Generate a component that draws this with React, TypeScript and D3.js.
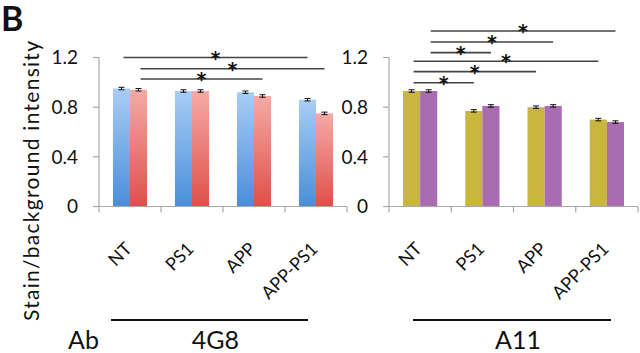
import React from "react";
import * as d3 from "d3";

const categories = ["NT", "PS1", "APP", "APP-PS1"];
const seriesKeys = ["a", "b"];
const g4g8A = [0.95, 0.93, 0.92, 0.86];
const g4g8B = [0.94, 0.93, 0.89, 0.75];
const g4g8ErrA = [0.01, 0.01, 0.01, 0.01];
const g4g8ErrB = [0.01, 0.01, 0.01, 0.01];
const a11A = [0.93, 0.77, 0.8, 0.7];
const a11B = [0.93, 0.81, 0.81, 0.68];
const a11ErrA = [0.01, 0.01, 0.01, 0.01];
const a11ErrB = [0.01, 0.01, 0.01, 0.01];
const yTicks = [0, 0.4, 0.8, 1.2];
const groupNames = ["4G8", "A11"];
// significance brackets: [series index, from category, to category, level (data units)]
const sig4G8: [number, number, number, number][] = [
  [0, 0, 3, 1.2],
  [1, 0, 3, 1.11],
  [1, 0, 2, 1.027],
];
const sigA11: [number, number, number, number][] = [
  [1, 0, 3, 1.413],
  [1, 0, 2, 1.325],
  [1, 0, 1, 1.239],
  [0, 0, 3, 1.17],
  [0, 0, 2, 1.086],
  [0, 0, 1, 0.997],
];

const FONT = "Lato, 'Open Sans', sans-serif";

const y = d3.scaleLinear().domain([0, 1.2]).range([206.5, 57.5]);

type PanelProps = {
  x0: number;
  x1: number;
  valsA: number[];
  valsB: number[];
  errA: number[];
  errB: number[];
  fillA: string;
  fillB: string;
  sig: [number, number, number, number][];
  groupName: string;
  lineX: [number, number];
};

function Panel(p: PanelProps) {
  const x = d3.scaleBand<string>().domain(categories).range([p.x0, p.x1]).paddingInner(0.45).paddingOuter(0.225);
  const xs = d3.scaleBand<string>().domain(seriesKeys).range([0, x.bandwidth()]);
  const vals = [p.valsA, p.valsB];
  const errs = [p.errA, p.errB];
  const fills = [p.fillA, p.fillB];
  const step = x.step();
  const barCenter = (s: number, c: number) => (x(categories[c]) as number) + (xs(seriesKeys[s]) as number) + xs.bandwidth() / 2;
  return (
    <g>
      {/* y axis */}
      <line x1={p.x0} x2={p.x0} y1={y(0)} y2={y(1.2)} stroke="#a8a8a8" strokeWidth={1.2} />
      {yTicks.map((t) => (
        <g key={t}>
          <line x1={p.x0 - 6} x2={p.x0} y1={y(t)} y2={y(t)} stroke="#a8a8a8" strokeWidth={1.2} />
          <text x={p.x0 - 21} y={y(t)} dy="0.36em" textAnchor="end" fontFamily={FONT} fontSize={19} fill="#111">
            {t === 0 ? "0" : t.toFixed(1)}
          </text>
        </g>
      ))}
      {/* bars */}
      {categories.map((c, ci) =>
        seriesKeys.map((s, si) => {
          const v = vals[si][ci];
          const bx = (x(c) as number) + (xs(s) as number);
          const cx = bx + xs.bandwidth() / 2;
          const e = errs[si][ci];
          return (
            <g key={c + s}>
              <rect x={bx} y={y(v)} width={xs.bandwidth()} height={y(0) - y(v)} fill={fills[si]} />
              <line x1={cx} x2={cx} y1={y(v + e)} y2={y(v - e)} stroke="#111" strokeWidth={1} />
              <line x1={cx - 3} x2={cx + 3} y1={y(v + e)} y2={y(v + e)} stroke="#111" strokeWidth={1} />
              <line x1={cx - 3} x2={cx + 3} y1={y(v - e)} y2={y(v - e)} stroke="#111" strokeWidth={1} />
            </g>
          );
        })
      )}
      {/* x axis */}
      <line x1={p.x0} x2={p.x1} y1={y(0)} y2={y(0)} stroke="#a8a8a8" strokeWidth={1.2} />
      {d3.range(categories.length + 1).map((i) => (
        <line key={i} x1={p.x0 + i * step} x2={p.x0 + i * step} y1={y(0)} y2={y(0) + 6} stroke="#a8a8a8" strokeWidth={1.2} />
      ))}
      {categories.map((c) => {
        const cx = (x(c) as number) + x.bandwidth() / 2 + 3;
        return (
          <text key={c} transform={`translate(${cx},${250}) rotate(-45)`} textAnchor="end" fontFamily={FONT} fontSize={18} fill="#111">
            {c}
          </text>
        );
      })}
      {/* significance */}
      {p.sig.map(([s, c0, c1, lvl], i) => {
        const xa = barCenter(s, c0) + 2;
        const xb = barCenter(s, c1);
        const ly = y(lvl);
        return (
          <g key={i}>
            <line x1={xa} x2={xb} y1={ly} y2={ly} stroke="#444" strokeWidth={1.6} />
            <text x={(xa + xb) / 2} y={ly + 7} textAnchor="middle" fontFamily="'DejaVu Sans', sans-serif" fontWeight="bold" fontSize={19} fill="#111">
              *
            </text>
          </g>
        );
      })}
      {/* group label */}
      <line x1={p.lineX[0]} x2={p.lineX[1]} y1={320} y2={320} stroke="#111" strokeWidth={2} />
      <text x={(p.lineX[0] + p.lineX[1]) / 2 + 6} y={349} textAnchor="middle" fontFamily={FONT} fontSize={25} fill="#111">
        {p.groupName}
      </text>
    </g>
  );
}

export default function App() {
  return (
    <svg width={640} height={353} style={{ position: "absolute", left: 0, top: 0, background: "#fff" }}>
      <defs>
        <linearGradient id="gBlue" x1="0" y1="0" x2="0" y2="1">
          <stop offset="0" stopColor="#a9cdf6" />
          <stop offset="1" stopColor="#4a8ed8" />
        </linearGradient>
        <linearGradient id="gRed" x1="0" y1="0" x2="0" y2="1">
          <stop offset="0" stopColor="#f6aaa6" />
          <stop offset="1" stopColor="#de5049" />
        </linearGradient>
      </defs>
      <rect width={640} height={353} fill="#fff" />
      <text x={1} y={31} fontFamily={FONT} fontWeight="bold" fontSize={34} fill="#111">B</text>
      <text transform="translate(39,181) rotate(-90)" textAnchor="middle" fontFamily={FONT} fontSize={21} textLength={280} lengthAdjust="spacing" fill="#111">
        Stain/background intensity
      </text>
      <text x={68} y={349} fontFamily={FONT} fontSize={25} fill="#111">Ab</text>
      <Panel x0={99} x1={347} valsA={g4g8A} valsB={g4g8B} errA={g4g8ErrA} errB={g4g8ErrB} fillA="url(#gBlue)" fillB="url(#gRed)" sig={sig4G8} groupName={groupNames[0]} lineX={[111, 308]} />
      <Panel x0={389} x1={638} valsA={a11A} valsB={a11B} errA={a11ErrA} errB={a11ErrB} fillA="#c9b63e" fillB="#aa6cb0" sig={sigA11} groupName={groupNames[1]} lineX={[413, 611]} />
    </svg>
  );
}
